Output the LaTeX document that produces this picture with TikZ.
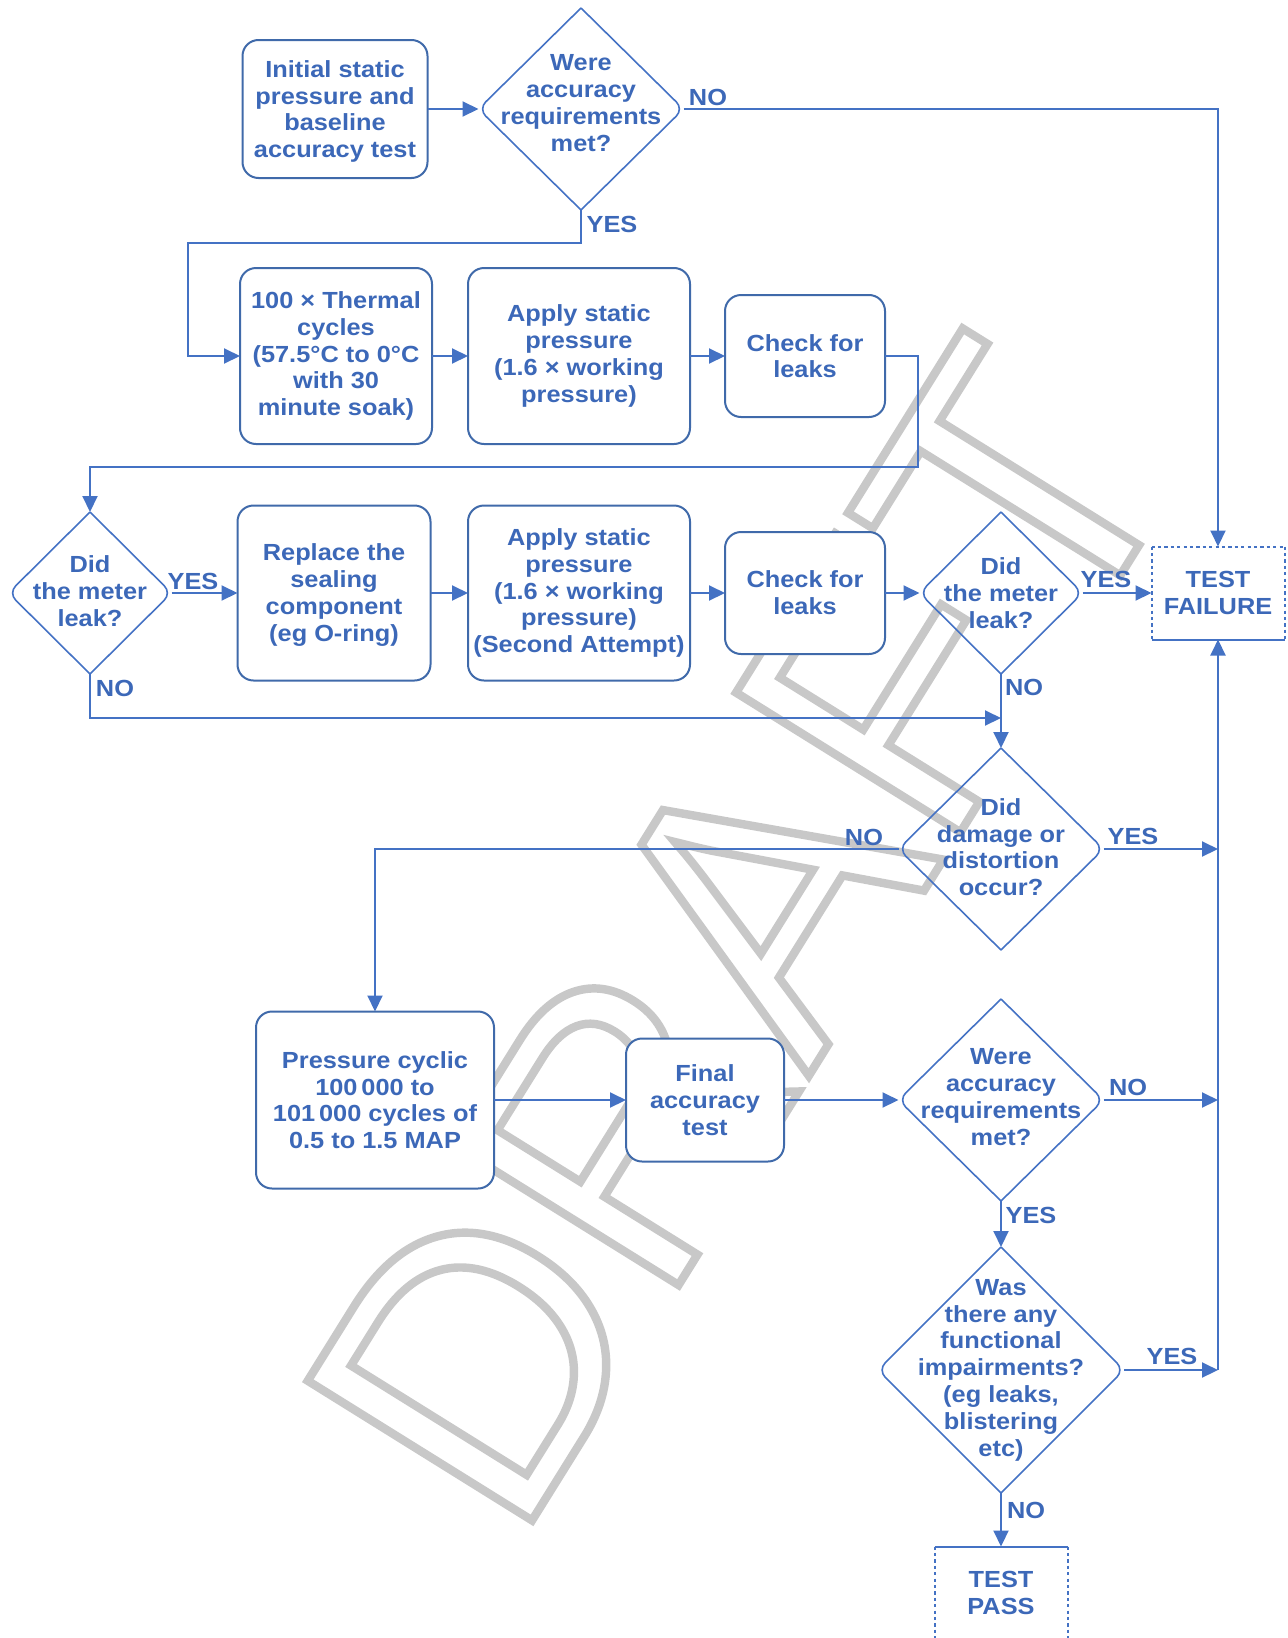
\documentclass[tikz,border=0pt]{standalone}
\usepackage{fontspec}
\newfontfamily\diagfont{Liberation Sans}[FakeStretch=1.087]
\newfontfamily\wmfont{Liberation Sans}
\usetikzlibrary{arrows.meta}
\definecolor{lineblue}{RGB}{68,114,196}
\definecolor{txtblue}{RGB}{60,104,184}
\definecolor{boxblue}{RGB}{64,106,170}
\definecolor{wmgray}{RGB}{200,200,200}
\newcommand\drawdiam[1]{%
  \draw[diam] (#1.north) -- (#1.west) -- (#1.south);
  \draw[diam] (#1.north) -- (#1.east) -- (#1.south);}
\begin{document}
\begin{tikzpicture}[x=0.5pt,y=-0.5pt,
  every node/.style={inner sep=0pt, outer sep=0pt, font=\diagfont\bfseries\fontsize{11.66pt}{13.4pt}\selectfont, text=txtblue, align=center},
  box/.style={draw=boxblue, fill=white, line width=1pt, rounded corners=8pt},
  diam/.style={draw=lineblue, line width=0.8pt, rounded corners=5pt},
  arr/.style={draw=lineblue, line width=1pt, -{Triangle[length=8pt,width=7.5pt]}},
  ln/.style={draw=lineblue, line width=1pt},
  dotline/.style={draw=lineblue, line width=1pt, dash pattern=on 1.6pt off 1.6pt},
]
\useasboundingbox (0,0) rectangle (1288,1638);
% watermark
\node[font=\wmfont\fontsize{192pt}{192pt}\selectfont, text=wmgray, anchor=base west, rotate=58.1, transform shape] (wm) at (515.4,1547.1)
  {\special{pdf:literal direct 1 Tr 4.2 w}DRAFT\special{pdf:literal direct 0 Tr}};
% boxes
\node[box, minimum width=92.5pt, minimum height=69pt, text depth=-0.6pt] (init) at (335,109) {Initial static\\pressure and\\baseline\\accuracy test};
\node[minimum width=102.5pt, minimum height=101pt, text depth=6pt] (d1) at (581,109) {Were\\accuracy\\requirements\\met?};
\node[box, minimum width=96pt, minimum height=88pt] (therm) at (336,356) {100 × Thermal\\cycles\\(57.5°C to 0°C\\with 30\\minute soak)};
\node[box, minimum width=111pt, minimum height=88pt] (app1) at (579,356) {Apply static\\pressure\\(1.6 × working\\pressure)};
\node[box, minimum width=80pt, minimum height=61pt, text depth=-2pt] (chk1) at (805,356) {Check for\\leaks};
\node[minimum width=81.5pt, minimum height=81pt, text depth=2pt] (d2) at (90,593) {Did\\the meter\\leak?};
\node[box, minimum width=96.5pt, minimum height=87.5pt, text depth=0.4pt] (repl) at (334,593) {Replace the\\sealing\\component\\(eg O-ring)};
\node[box, minimum width=111pt, minimum height=87.5pt] (app2) at (579,593) {Apply static\\pressure\\(1.6 × working\\pressure)\\(Second Attempt)};
\node[box, minimum width=80pt, minimum height=61pt] (chk2) at (805,593) {Check for\\leaks};
\node[minimum width=81.5pt, minimum height=81pt] (d3) at (1001,593) {Did\\the meter\\leak?};
\node[minimum width=66.5pt, minimum height=46.5pt] (fail) at (1218,593) {TEST\\FAILURE};
\node[minimum width=102.5pt, minimum height=101pt, text depth=2pt] (d4) at (1001,849) {Did\\damage or\\distortion\\occur?};
\node[box, minimum width=119pt, minimum height=88.5pt, text depth=-3pt] (press) at (375,1100) {Pressure cyclic\\100\,000 to\\101\,000 cycles of\\0.5 to 1.5 MAP};
\node[box, minimum width=79pt, minimum height=61.5pt] (final) at (705,1100) {Final\\accuracy\\test};
\node[minimum width=102.5pt, minimum height=101pt, text depth=3pt] (d5) at (1001,1100) {Were\\accuracy\\requirements\\met?};
\node[minimum width=123pt, minimum height=123pt] (d6) at (1001,1370) {Was\\there any\\functional\\impairments?\\(eg leaks,\\blistering\\etc)};
\node[minimum width=66.5pt, minimum height=46.5pt] (pass) at (1001,1593) {TEST\\PASS};
% diamonds
\drawdiam{d1}\drawdiam{d2}\drawdiam{d3}\drawdiam{d4}\drawdiam{d5}\drawdiam{d6}
% terminal boxes
\draw[dotline] (fail.north west) -- (fail.north east);
\draw[dotline] (fail.north west) -- (fail.south west);
\draw[dotline] (fail.north east) -- (fail.south east);
\draw[ln] (fail.south west) -- (fail.south east);
\draw[ln] (pass.north west) -- (pass.north east);
\draw[dotline] (pass.north west) -- (pass.south west);
\draw[dotline] (pass.north east) -- (pass.south east);
% helper coordinates
\coordinate (c1) at (188,243);
\coordinate (c2) at (918,467);
\coordinate (c3) at (1001,718);
\coordinate (r4) at (1218,849);
\coordinate (r5) at (1218,1100);
\coordinate (r6) at (1218,1370);
% connectors
\draw[arr] (init.east) -- (d1.west);
\draw[arr] (d1.east) -| (fail.north);
\draw[arr] (d1.south) |- (c1) |- (therm.west);
\draw[arr] (therm.east) -- (app1.west);
\draw[arr] (app1.east) -- (chk1.west);
\draw[arr] (chk1.east) -| (c2) -| (d2.north);
\draw[arr] (d2.east) -- (repl.west);
\draw[arr] (repl.east) -- (app2.west);
\draw[arr] (app2.east) -- (chk2.west);
\draw[arr] (chk2.east) -- (d3.west);
\draw[arr] (d3.east) -- (fail.west);
\draw[arr] (d2.south) |- (c3);
\draw[arr] (d3.south) -- (d4.north);
\draw[arr] (d4.east) -- (r4);
\draw[arr] (d4.west) -| (press.north);
\draw[arr] (press.east) -- (final.west);
\draw[arr] (final.east) -- (d5.west);
\draw[arr] (d5.east) -- (r5);
\draw[arr] (d5.south) -- (d6.north);
\draw[arr] (d6.east) -- (r6);
\draw[arr] (d6.south) -- (pass.north);
\draw[arr] (r6) -- (fail.south);
% labels
\node (l1) at (708,97) {NO};
\node (l2) at (612,224) {YES};
\node (l3) at (193,581) {YES};
\node (l4) at (115,688) {NO};
\node (l5) at (1106,579) {YES};
\node (l6) at (1024,687) {NO};
\node (l7) at (864,837) {NO};
\node (l8) at (1133,836) {YES};
\node (l9) at (1128,1087) {NO};
\node (l10) at (1031,1215) {YES};
\node (l11) at (1172,1356) {YES};
\node (l12) at (1026,1510) {NO};
\end{tikzpicture}
\end{document}
